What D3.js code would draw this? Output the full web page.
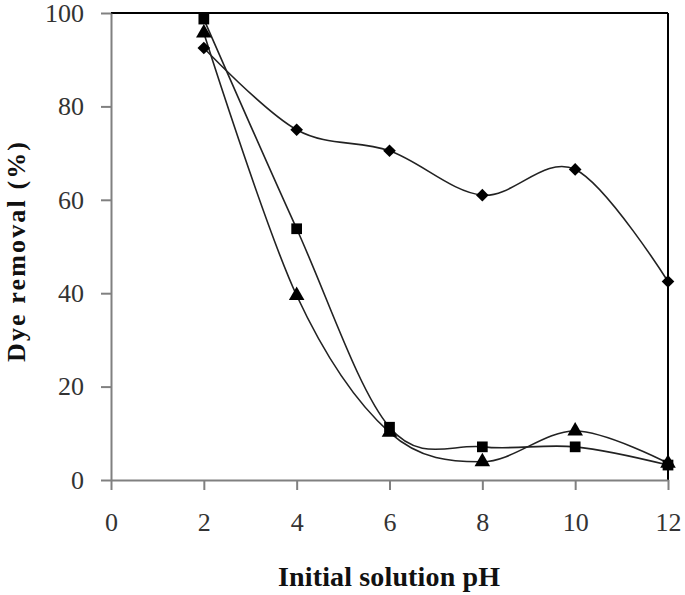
<!DOCTYPE html>
<html><head><meta charset="utf-8">
<script src="https://cdn.jsdelivr.net/npm/d3@7"></script>
<style>body{margin:0;background:#fff}svg{display:block}</style>
</head><body>
<svg id="c" width="685" height="595"></svg>
<script>
const pH = [2, 4, 6, 8, 10, 12];
const diamondSeries = [92.5, 75, 70.5, 61, 66.5, 42.5];
const squareSeries = [98.7, 53.8, 11.3, 7.1, 7.1, 3.2];
const triangleSeries = [95.7, 39.5, 10.2, 3.9, 10.5, 3.6];
const xTicks = [0, 2, 4, 6, 8, 10, 12];
const yTicks = [0, 20, 40, 60, 80, 100];
const xTitle = "Initial solution pH";
const yTitle = "Dye removal (%)";

const svg = d3.select("#c");
const x = d3.scaleLinear().domain([0, 12]).range([111, 668]);
const y = d3.scaleLinear().domain([0, 100]).range([480, 13]);
const axisColor = "#808080";
const font = "'Liberation Serif', 'Times New Roman', serif";

// top and right border
svg.append("line").attr("x1", x(0)).attr("x2", x(12)).attr("y1", y(100)).attr("y2", y(100))
  .attr("stroke", "#000").attr("stroke-width", 2);
svg.append("line").attr("x1", x(12)).attr("x2", x(12)).attr("y1", y(100)).attr("y2", y(0))
  .attr("stroke", "#000").attr("stroke-width", 2);

const xAxis = svg.append("g").attr("transform", `translate(0,${y(0)})`)
  .call(d3.axisBottom(x).tickValues(xTicks).tickSize(10).tickPadding(23).tickSizeOuter(0));
const yAxis = svg.append("g").attr("transform", `translate(${x(0)},0)`)
  .call(d3.axisLeft(y).tickValues(yTicks).tickSize(10).tickPadding(17).tickSizeOuter(0));
[xAxis, yAxis].forEach(g => {
  g.select(".domain").attr("stroke", axisColor).attr("stroke-width", 2);
  g.selectAll(".tick line").attr("stroke", axisColor).attr("stroke-width", 2);
  g.selectAll(".tick text").attr("fill", "#333").style("font-family", font).style("font-size", "26px");
});

const line = d3.line().x((d, i) => x(pH[i])).y(d => y(d)).curve(d3.curveCatmullRom.alpha(0));
const series = [
  {v: diamondSeries, sym: d3.symbolSquare, size: 80, rot: 45},
  {v: squareSeries, sym: d3.symbolSquare, size: 115, rot: 0},
  {v: triangleSeries, sym: d3.symbolTriangle, size: 105, rot: 0}
];
series.forEach(s => {
  svg.append("path").attr("d", line(s.v)).attr("fill", "none")
    .attr("stroke", "#222").attr("stroke-width", 1.6);
});
series.forEach(s => {
  svg.selectAll(null).data(s.v).enter().append("path")
    .attr("d", d3.symbol().type(s.sym).size(s.size))
    .attr("transform", (d, i) => `translate(${x(pH[i])},${y(d)}) rotate(${s.rot})`)
    .attr("fill", "#000");
});

svg.append("text").attr("x", 389).attr("y", 586).attr("text-anchor", "middle")
  .style("font-family", font).style("font-weight", "bold").style("font-size", "28px")
  .attr("textLength", 222).attr("lengthAdjust", "spacing")
  .attr("fill", "#111").text(xTitle);
svg.append("text").attr("transform", "translate(25,252) rotate(-90)").attr("text-anchor", "middle")
  .style("font-family", font).style("font-weight", "bold").style("font-size", "26px")
  .attr("textLength", 220).attr("lengthAdjust", "spacing")
  .attr("fill", "#111").text(yTitle);
</script>
</body></html>
